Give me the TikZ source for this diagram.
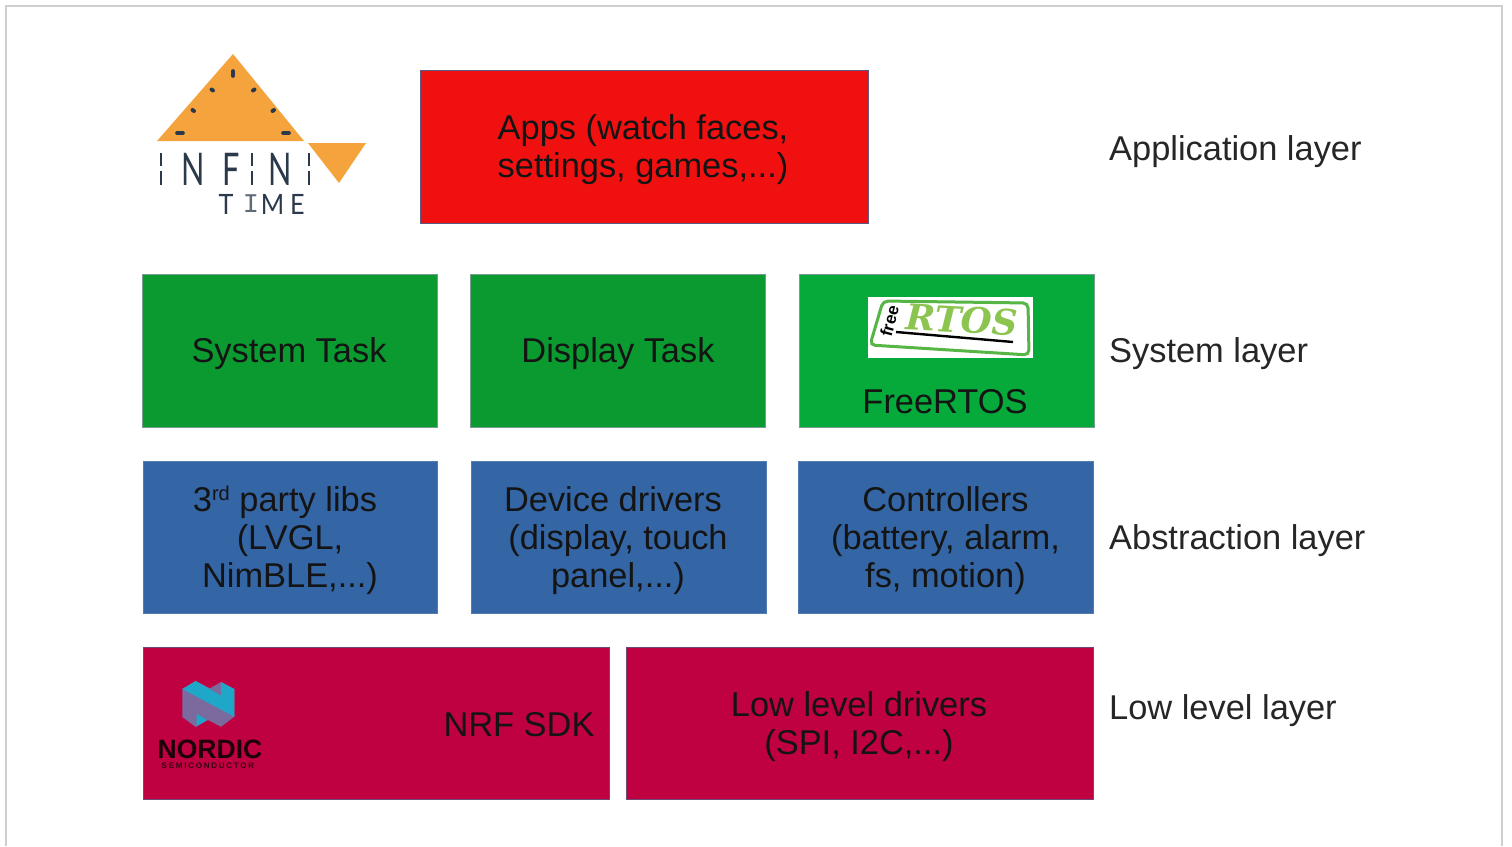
\documentclass[tikz,border=0pt]{standalone}
\usepackage{fontspec}
\setmainfont{Liberation Sans}
\newfontfamily\logofont{Lato}
\newfontfamily\monologo{Liberation Mono}
\newfontfamily\rtosfont{DejaVu Serif}
\newfontfamily\semifont[LetterSpace=22]{Liberation Sans}
\definecolor{edgec}{HTML}{5A5A85}
\definecolor{greenedge}{HTML}{7C9A94}
\definecolor{redc}{HTML}{F11010}
\definecolor{greenc}{HTML}{0A9A30}
\definecolor{greenb}{HTML}{05AA3A}
\definecolor{bluec}{HTML}{3465A4}
\definecolor{crimc}{HTML}{BF0041}
\definecolor{orangec}{HTML}{F5A33C}
\definecolor{inkc}{HTML}{2A3A4A}
\definecolor{rtosc}{HTML}{8CC450}
\definecolor{rtose}{HTML}{55B545}
\definecolor{nordcyan}{HTML}{1FA7C9}
\definecolor{nordpurple}{HTML}{7A6A9E}
\definecolor{frameline}{HTML}{CFCFCF}
\newcommand{\supsmall}[1]{\raisebox{.62ex}{\fontsize{20}{20}\selectfont #1}}
\tikzset{
  layerbox/.style={line width=1pt,minimum width=\bw pt,minimum height=\bh pt,inner sep=0pt,anchor=north west},
  boxtext/.style={inner sep=0pt,align=center,text=black!92,font=\fontsize{34.4}{38}\selectfont},
  layerlabel/.style={anchor=west,inner sep=0pt,text=black!85,font=\fontsize{34.4}{38}\selectfont},
  dashmark/.style={line width=3.6pt,line cap=round,draw=inkc},
  dotmark/.style={line width=4pt,line cap=round,draw=inkc},
  logobar/.style={line width=2.6pt,draw=inkc},
  logoletter/.style={inner sep=0pt,text=inkc,xscale=.68,font=\logofont\fontsize{45}{45}\selectfont},
  logosmall/.style={inner sep=0pt,text=inkc,xscale=.9,font=\logofont\fontsize{28}{28}\selectfont},
}
\begin{document}
\begin{tikzpicture}[x=1pt,y=-1pt]
\useasboundingbox (0,0) rectangle (1512,846);
\fill[white] (0,0) rectangle (1512,846);
\coordinate (fa) at (6,846);\coordinate (fb) at (6,6);\coordinate (fc) at (1502,6);\coordinate (fd) at (1502,846);
\draw[frameline,line width=1.4pt] (fa) -- (fb) -- (fc) -- (fd);

% boxes
\def\bw{448}\def\bh{153}
\node[layerbox,fill=redc,draw=edgec] (apps) at (420,70) {};
\def\bw{295}\def\bh{153}
\node[layerbox,fill=greenc,draw=greenedge] (sys) at (142,274) {};
\node[layerbox,fill=greenc,draw=greenedge] (disp) at (470,274) {};
\node[layerbox,fill=greenb,draw=greenedge] (rtos) at (798.5,274) {};
\def\bw{294}\def\bh{152}
\node[layerbox,fill=bluec,draw=bluec!85!white] (libs) at (143,461) {};
\def\bw{295}
\node[layerbox,fill=bluec,draw=bluec!85!white] (dev) at (471,461) {};
\node[layerbox,fill=bluec,draw=bluec!85!white] (ctrl) at (798,461) {};
\def\bw{466}
\node[layerbox,fill=crimc,draw=edgec!80!crimc] (nrf) at (143,647) {};
\def\bw{467}
\node[layerbox,fill=crimc,draw=edgec!80!crimc] (low) at (626,647) {};

% box texts
\node[boxtext] (appstext) at (643,150) {Apps (watch faces,\\settings, games,...)};
\node[boxtext] (systext) at (289,354) {System Task};
\node[boxtext] (disptext) at (618,354) {Display Task};
\node[boxtext] (freertos) at (945,402) {FreeRTOS};
\node[boxtext] (libstext) at (290,540) {3\supsmall{rd} party libs\hspace*{10pt}\\(LVGL,\\NimBLE,...)};
\node[boxtext] (devtext) at (618,541) {Device drivers\hspace*{10pt}\\(display, touch\\panel,...)};
\node[boxtext] (ctrltext) at (945.5,541) {Controllers\\(battery, alarm,\\fs, motion)};
\node[boxtext] (nrftext) at (519,725) {NRF SDK};
\node[boxtext] (lowtext) at (859,727) {Low level drivers\\(SPI, I2C,...)};

% layer labels
\node[layerlabel] (l1) at (1109,152) {Application layer};
\node[layerlabel] (l2) at (1109,354) {System layer};
\node[layerlabel] (l3) at (1109,541) {Abstraction layer};
\node[layerlabel] (l4) at (1109,711) {Low level layer};

% InfiniTime logo
\fill[orangec] (233,54) -- (304,141) -- (157,141) -- cycle;
\fill[orangec] (308,143) -- (366,143) -- (339,183) -- cycle;
\draw[dashmark] (233,71) -- (233,76);
\draw[dotmark] (211.5,89.5) -- (213,90.5);
\draw[dotmark] (253,90.5) -- (254.5,89.5);
\draw[dotmark] (192.5,110) -- (194,111);
\draw[dotmark] (272.5,111) -- (274,110);
\draw[dashmark] (177,133) -- (183,133);
\draw[dashmark] (283,133) -- (289,133);
\foreach \ix in {161,252,309}{
  \draw[logobar] (\ix,153) -- (\ix,166) (\ix,171) -- (\ix,185);
}
\node[logoletter] (n1) at (193,169) {N};
\node[logoletter] (f1) at (231,169) {F};
\node[logoletter] (n2) at (280,169) {N};
\node[logosmall] (t1) at (226,204) {T};
\node[logosmall,xscale=1.11,text=inkc!75,font=\monologo\fontsize{27}{27}\selectfont] (t2) at (251,204) {I};
\node[logosmall] (t3) at (272.5,204) {M};
\node[logosmall] (t4) at (297.5,204) {E};

% FreeRTOS logo
\fill[white] (868,297) rectangle (1033,358);
\draw[rtose,line width=3pt,rounded corners=5pt] (883,301) -- (1028,303) -- (1029,355) -- (870,345) -- cycle;
\node[inner sep=0pt,rotate=-3,text=rtosc,font=\rtosfont\bfseries\itshape\fontsize{35.5}{36}\selectfont] (rtoslogo) at (962,320) {RTOS};
\draw[black,line width=2.4pt] (896,332) -- (1013,342);
\node[inner sep=0pt,rotate=75,text=black,font=\bfseries\fontsize{17}{17}\selectfont] (freelogo) at (889.5,321) {free};

% Nordic logo
\fill[nordpurple] (182.3,689) -- (195.7,681) -- (210,688.3) -- (221,682) -- (234.3,689) -- (234.3,716.7) -- (221,726.7) -- (208,720) -- (195.7,727) -- (182.3,717) -- cycle;
\fill[nordcyan] (182.3,689) -- (195.7,681) -- (221,695.7) -- (221,682) -- (234.3,689) -- (234.3,716.7) -- cycle;
\fill[nordcyan] (196.7,714) -- (196.7,726) -- (207,720) -- cycle;
\node[inner sep=0pt,text=black!85!crimc,font=\bfseries\fontsize{26.5}{26}\selectfont] (nordic) at (210,749) {NORDIC};
\node[inner sep=0pt,text=black!70!crimc,font=\semifont\bfseries\fontsize{8}{8}\selectfont] (semi) at (208,766) {SEMICONDUCTOR};
\end{tikzpicture}
\end{document}
